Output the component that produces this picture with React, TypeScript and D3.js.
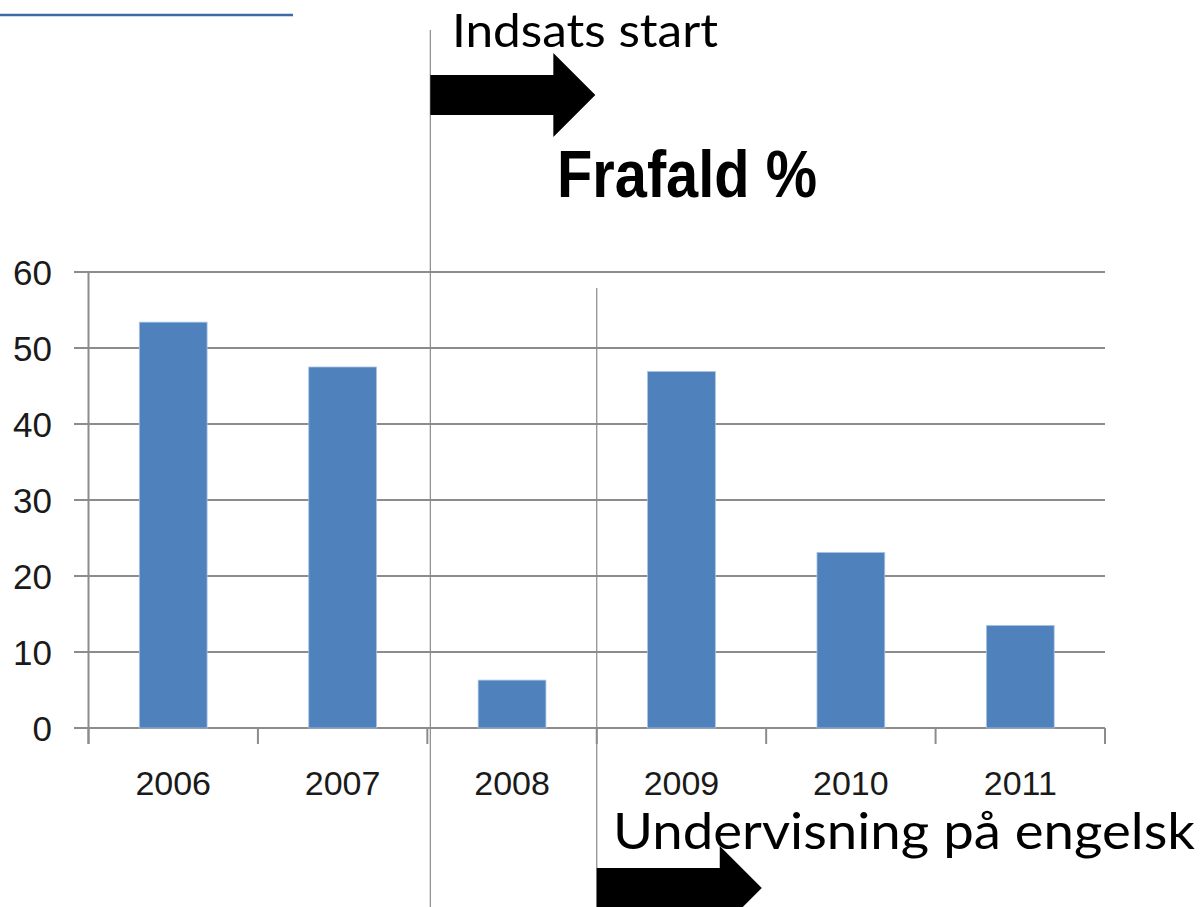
import * as d3 from "d3";

const years = ["2006", "2007", "2008", "2009", "2010", "2011"];
const dropout = [53.4, 47.5, 6.3, 46.9, 23.1, 13.5];
const yTicks = [0, 10, 20, 30, 40, 50, 60];

const W = 1202;
const H = 907;

export default function App() {
  const x = d3
    .scaleBand<string>()
    .domain(years)
    .range([88.5, 1105])
    .paddingInner(0.6)
    .paddingOuter(0.3);
  const y = d3.scaleLinear().domain([0, 60]).range([728, 272]);
  const step = x.step();
  const bounds = d3.range(years.length + 1).map((i) => 88.5 + i * step);

  // annotation lines sit roughly on the category boundaries
  const startX = bounds[2] + 3;
  const engX = bounds[3];

  const arrow = (x0: number, yc: number) => {
    const shaft = 20;
    const head = 42;
    const len = 123;
    return [
      [x0, yc - shaft],
      [x0 + len, yc - shaft],
      [x0 + len, yc - head],
      [x0 + len + 42, yc],
      [x0 + len, yc + head],
      [x0 + len, yc + shaft],
      [x0, yc + shaft],
    ]
      .map((p) => p.join(","))
      .join(" ");
  };

  return (
    <svg
      width={W}
      height={H}
      style={{ position: "absolute", left: 0, top: 0, background: "#fff" }}
      fontFamily="'Liberation Sans', Arial, sans-serif"
    >
      <rect width={W} height={H} fill="#fff" />
      {/* top-left rule */}
      <line x1={0} x2={293} y1={15} y2={15} stroke="#3d6aa5" strokeWidth={2.5} />

      {/* grid lines */}
      {yTicks.map((t) => (
        <line
          key={t}
          x1={74}
          x2={1105}
          y1={y(t)}
          y2={y(t)}
          stroke="#8c8c8c"
          strokeWidth={2}
        />
      ))}
      {/* y axis */}
      <line x1={88.5} x2={88.5} y1={y(60)} y2={744} stroke="#8c8c8c" strokeWidth={2} />
      {/* x ticks */}
      {bounds.map((b, i) => (
        <line key={i} x1={b} x2={b} y1={728} y2={744} stroke="#8c8c8c" strokeWidth={2} />
      ))}

      {/* bars */}
      {years.map((yr, i) => (
        <rect
          key={yr}
          x={x(yr)}
          y={y(dropout[i])}
          width={x.bandwidth()}
          height={y(0) - y(dropout[i])}
          fill="#4f81bd"
          stroke="#a9c3e3"
          strokeWidth={0.8}
        />
      ))}

      {/* y labels */}
      {yTicks.map((t) => (
        <text
          key={t}
          x={52}
          y={y(t)}
          textAnchor="end"
          dominantBaseline="central"
          fontSize={35}
          fill="#1a1a1a"
        >
          {t}
        </text>
      ))}
      {/* x labels */}
      {years.map((yr) => (
        <text
          key={yr}
          x={(x(yr) ?? 0) + x.bandwidth() / 2}
          y={795}
          textAnchor="middle"
          fontSize={34}
          fill="#1a1a1a"
        >
          {yr}
        </text>
      ))}

      {/* title */}
      <text
        x={557}
        y={197}
        fontSize={66}
        fontWeight="bold"
        fill="#000"
        textLength={260}
        lengthAdjust="spacingAndGlyphs"
      >
        Frafald %
      </text>

      {/* annotation lines */}
      <line x1={startX} x2={startX} y1={30} y2={H} stroke="#8a8a8a" strokeWidth={1.2} />
      <line x1={engX} x2={engX} y1={288} y2={H} stroke="#8a8a8a" strokeWidth={1.2} />

      {/* arrows */}
      <polygon points={arrow(startX, 95)} fill="#000" />
      <polygon points={arrow(engX, 888)} fill="#000" />

      <text
        x={452}
        y={47}
        fontSize={47}
        fontFamily="Lato, 'Open Sans', sans-serif"
        fill="#000"
        textLength={266}
        lengthAdjust="spacingAndGlyphs"
      >
        Indsats start
      </text>
      <text
        x={613}
        y={849}
        fontSize={51}
        fontFamily="Lato, 'Open Sans', sans-serif"
        fill="#000"
        textLength={582}
        lengthAdjust="spacingAndGlyphs"
      >
        Undervisning på engelsk
      </text>
    </svg>
  );
}
